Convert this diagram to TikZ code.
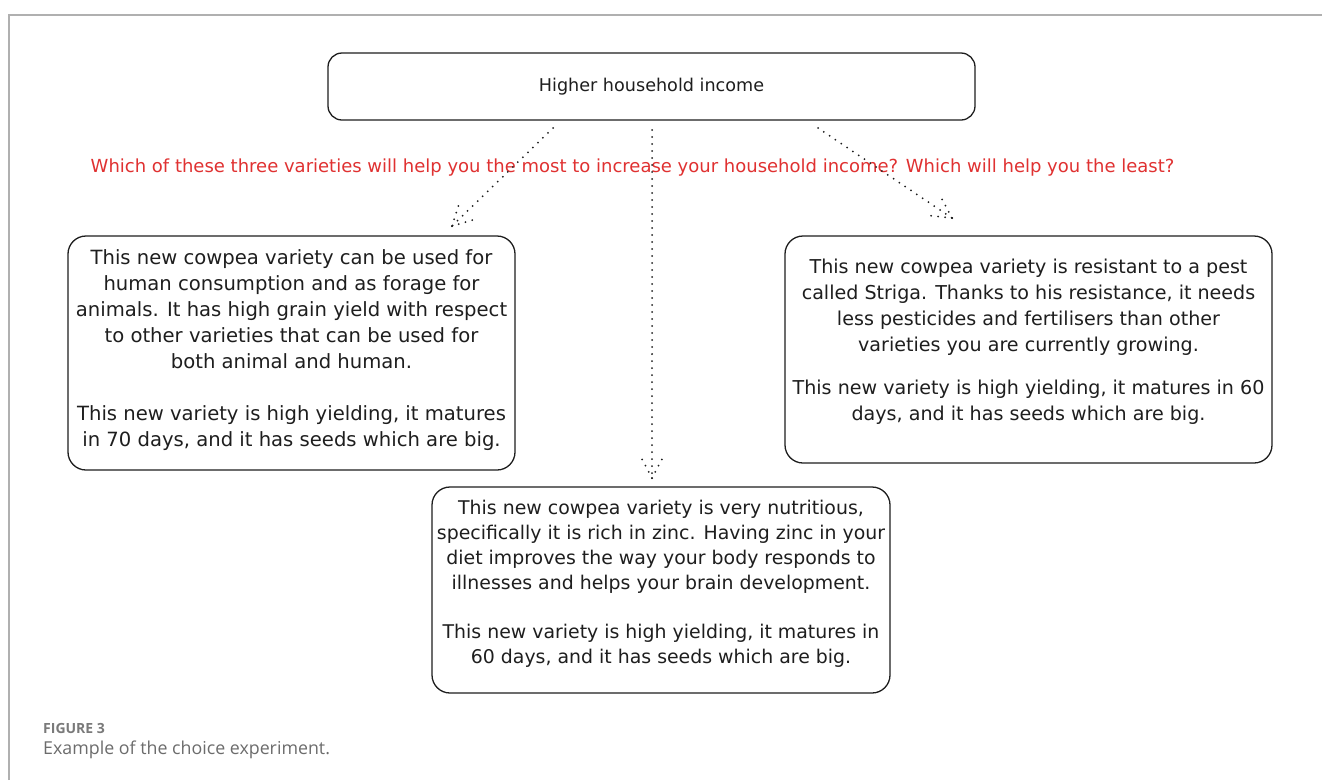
\documentclass[tikz,border=0pt]{standalone}
\usepackage{fontspec}
\usetikzlibrary{calc}
\newfontfamily\handfont{DejaVu Sans}
\newfontfamily\capfont{Open Sans}
\definecolor{ink}{HTML}{1E1E1E}
\definecolor{askred}{HTML}{E03131}
\definecolor{framegray}{HTML}{B0B0B0}
\definecolor{capgray}{HTML}{7A7A7A}
\definecolor{textgray}{HTML}{6C6C6C}

\tikzset{
  card/.style={draw=ink, line width=1.3pt, rounded corners=18pt, inner sep=0pt},
  cardtext/.style={align=center, inner sep=0pt, text=ink},
  hand/.style={font=\handfont\fontsize{#1}{26}\selectfont, text=ink},
  hand/.default=19.6,
  link/.style={draw=ink, line width=2pt, line cap=round, dash pattern=on 0pt off 7pt},
}

% dotted connector ending in an open, dotted barb head
\newcommand\choicearrow[2]{%
  \draw[link] (#1) -- (#2);
  \draw[link] (#2) -- ($(#2)!23pt!28:(#1)$);
  \draw[link] (#2) -- ($(#2)!23pt!-28:(#1)$);
}

\begin{document}
\begin{tikzpicture}[x=1pt,y=-1pt]
  \useasboundingbox (0,0) rectangle (1322,780);
  \fill[white] (0,0) rectangle (1322,780);
  \draw[framegray, line width=2pt] (9,780) -- (9,15) -- (1322,15);

  % goal
  \node[card, rounded corners=14pt, minimum width=647pt, minimum height=67pt, hand=17.6]
    (goal) at (651.5,86.5) {Higher household income};

  % question
  \node[hand=18, text=askred] (ask) at (632.5,168)
    {Which of these three varieties will help you the most to increase your household income? Which will help you the least?};

  % the three varieties
  \node[card, minimum width=447pt, minimum height=234pt] (forage) at (291.5,353) {};
  \node[cardtext, hand=19.6] (forageText) at ($(forage.center)+(0,-3)$)
    {This new cowpea variety can be used for\\
     human consumption and as forage for\\
     animals. It has high grain yield with respect\\
     to other varieties that can be used for\\
     both animal and human.\\[26pt]
     This new variety is high yielding, it matures\\
     in 70 days, and it has seeds which are big.};

  \node[card, minimum width=487pt, minimum height=227pt] (striga) at (1028.5,349.5) {};
  \node[cardtext, hand=19.1] (strigaText) at ($(striga.center)+(0,-8)$)
    {This new cowpea variety is resistant to a pest\\
     called Striga. Thanks to his resistance, it needs\\
     less pesticides and fertilisers than other\\
     varieties you are currently growing.\\[17pt]
     This new variety is high yielding, it matures in 60\\
     days, and it has seeds which are big.};

  \node[card, minimum width=458pt, minimum height=206pt] (zinc) at (661,590) {};
  \node[cardtext, font=\handfont\fontsize{18.9}{25}\selectfont] (zincText) at ($(zinc.center)+(0,-6)$)
    {This new cowpea variety is very nutritious,\\
     specifically it is rich in zinc. Having zinc in your\\
     diet improves the way your body responds to\\
     illnesses and helps your brain development.\\[24pt]
     This new variety is high yielding, it matures in\\
     60 days, and it has seeds which are big.};

  % connectors
  \coordinate (fromL) at (553,128);
  \coordinate (toL)   at (452,226);
  \coordinate (fromM) at (652,130);
  \coordinate (toM)   at (652,478);
  \coordinate (fromR) at (818,128);
  \coordinate (toR)   at (952,218);
  \choicearrow{fromL}{toL}
  \choicearrow{fromM}{toM}
  \choicearrow{fromR}{toR}

  % caption
  \node[anchor=west, inner sep=0pt, font=\capfont\bfseries\fontsize{14}{16}\selectfont, text=capgray] (fig) at (43,728) {FIGURE 3};
  \node[anchor=west, inner sep=0pt, font=\capfont\fontsize{17.8}{21}\selectfont, text=textgray] (cap) at (43,750) {Example of the choice experiment.};
\end{tikzpicture}
\end{document}
